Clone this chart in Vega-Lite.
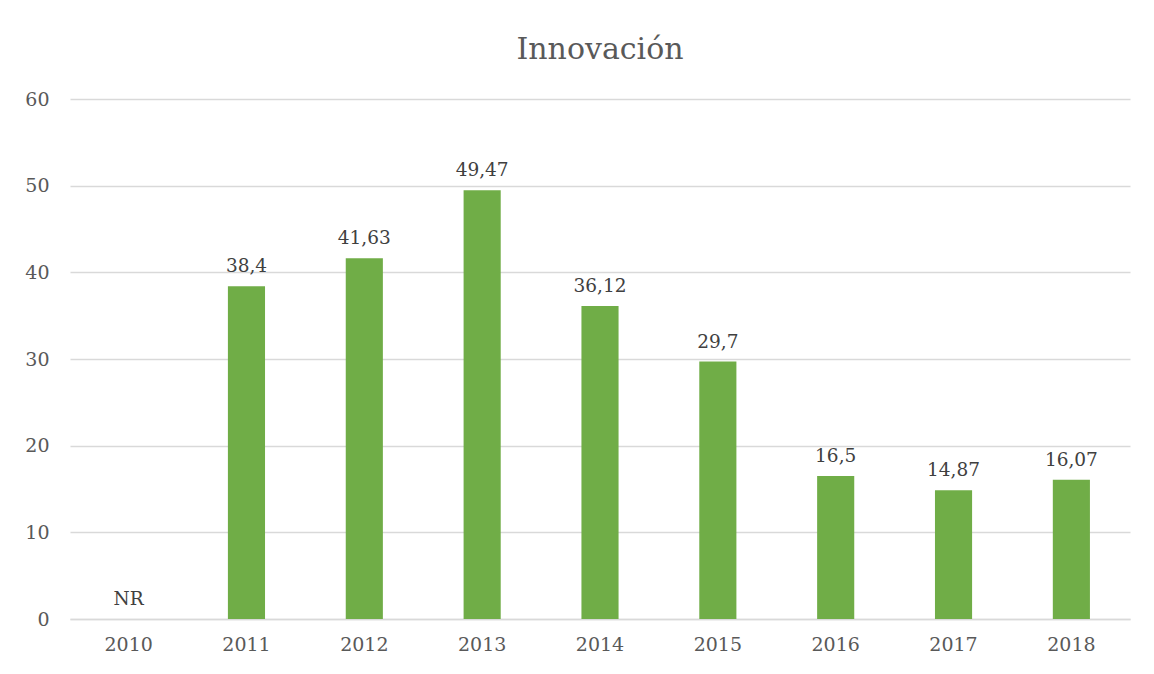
{
  "$schema": "https://vega.github.io/schema/vega-lite/v6.json",
  "width": 1154,
  "height": 674,
  "autosize": {"type": "fit", "contains": "padding"},
  "padding": {"left": 24, "right": 24, "top": 35, "bottom": 20},
  "background": "white",
  "title": {
    "text": "Innovación",
    "font": "DejaVu Serif",
    "fontSize": 30,
    "fontWeight": "normal",
    "color": "#595959",
    "anchor": "middle",
    "offset": 25
  },
  "data": {
    "values": [
      {"year": "2010", "value": 0, "label": "NR"},
      {"year": "2011", "value": 38.4, "label": "38,4"},
      {"year": "2012", "value": 41.63, "label": "41,63"},
      {"year": "2013", "value": 49.47, "label": "49,47"},
      {"year": "2014", "value": 36.12, "label": "36,12"},
      {"year": "2015", "value": 29.7, "label": "29,7"},
      {"year": "2016", "value": 16.5, "label": "16,5"},
      {"year": "2017", "value": 14.87, "label": "14,87"},
      {"year": "2018", "value": 16.07, "label": "16,07"}
    ]
  },
  "encoding": {
    "x": {
      "field": "year",
      "type": "nominal",
      "sort": null,
      "title": null,
      "scale": {"paddingInner": 0.685, "paddingOuter": 0.34},
      "axis": {
        "labelAngle": 0,
        "labelFont": "DejaVu Serif",
        "labelFontSize": 19,
        "labelColor": "#595959",
        "labelPadding": 16,
        "ticks": false,
        "domainColor": "#d9d9d9",
        "domainWidth": 1.5
      }
    },
    "y": {
      "field": "value",
      "type": "quantitative",
      "title": null,
      "scale": {"domain": [0, 60]},
      "axis": {
        "values": [0, 10, 20, 30, 40, 50, 60],
        "labelFont": "DejaVu Serif",
        "labelFontSize": 19,
        "labelColor": "#595959",
        "labelPadding": 21,
        "ticks": false,
        "domain": false,
        "gridColor": "#d9d9d9",
        "gridWidth": 1.5
      }
    }
  },
  "layer": [
    {"mark": {"type": "bar", "color": "#70ad47"}},
    {
      "mark": {
        "type": "text",
        "font": "DejaVu Serif",
        "fontSize": 18.5,
        "color": "#404040",
        "baseline": "bottom",
        "dy": -10
      },
      "encoding": {"text": {"field": "label"}}
    }
  ],
  "config": {"view": {"stroke": null}}
}
